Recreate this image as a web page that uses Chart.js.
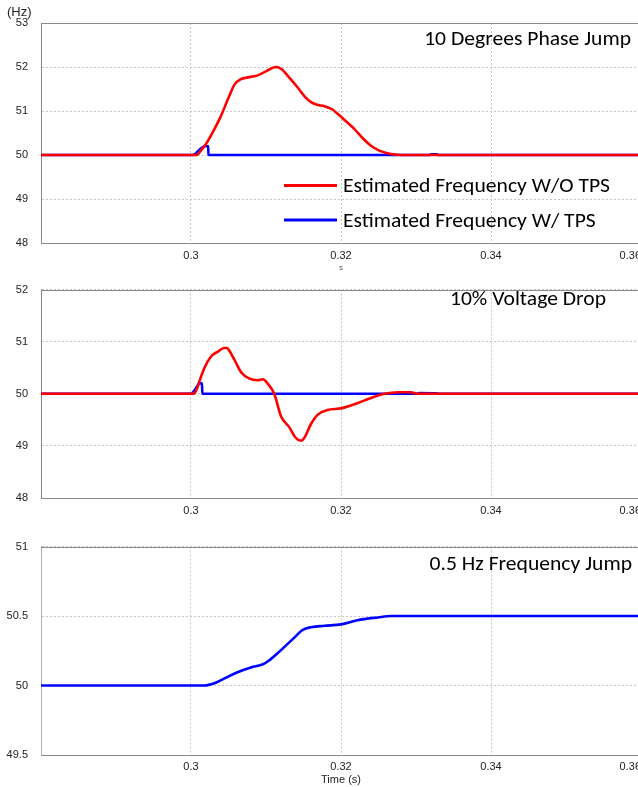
<!DOCTYPE html>
<html>
<head>
<meta charset="utf-8">
<script src="https://cdn.jsdelivr.net/npm/chart.js@4.4.1/dist/chart.umd.min.js"></script>
<style>
  html, body { margin: 0; padding: 0; background: #fff; overflow: hidden; width: 638px; height: 787px; }
  canvas.panel { position: absolute; left: 0; }
</style>
</head>
<body>
<canvas id="phaseJump" class="panel" width="680" height="275" style="top:0px"></canvas>
<canvas id="voltageDrop" class="panel" width="680" height="260" style="top:270px"></canvas>
<canvas id="freqJump" class="panel" width="680" height="260" style="top:527px"></canvas>
<script>
// ---- axis ticks ----
const timeTicks = [0.28, 0.30, 0.32, 0.34, 0.36];
const timeTickLabels = ['', '0.3', '0.32', '0.34', '0.36'];
const phaseTicks = [48, 49, 50, 51, 52, 53];
const voltageTicks = [48, 49, 50, 51, 52];
const freqTicks = [49.5, 50, 50.5, 51];

// ---- series labels ----
const seriesNames = ['Estimated Frequency W/O TPS', 'Estimated Frequency W/ TPS'];
const panelNames = ['10 Degrees Phase Jump', '10% Voltage Drop', '0.5 Hz Frequency Jump'];

// ---- 10 degrees phase jump ----
const phaseTimeNoTps = [0.28, 0.3008, 0.3013, 0.3020, 0.3030, 0.3040, 0.3050, 0.3058, 0.3066, 0.3078, 0.3089, 0.3100, 0.3113, 0.3121, 0.3129, 0.3142, 0.3152, 0.3160, 0.3168, 0.3178, 0.3188, 0.3196, 0.3207, 0.3218, 0.3229, 0.3240, 0.3251, 0.3262, 0.3272, 0.3280, 0.36];
const phaseFreqNoTps = [50, 50, 50.10, 50.25, 50.55, 50.89, 51.30, 51.60, 51.72, 51.77, 51.81, 51.90, 52.00, 51.95, 51.80, 51.54, 51.32, 51.20, 51.14, 51.11, 51.04, 50.93, 50.76, 50.59, 50.38, 50.21, 50.10, 50.04, 50.01, 50, 50];
const phaseTimeTps = [0.28, 0.3002, 0.3006, 0.3010, 0.3014, 0.3018, 0.30230, 0.30232, 0.3318, 0.3320, 0.3328, 0.3330, 0.36];
const phaseFreqTps = [50, 50, 50.03, 50.10, 50.16, 50.20, 50.20, 50, 50, 50.015, 50.015, 50, 50];

// ---- 10% voltage drop ----
const voltTimeNoTps = [0.28, 0.3004, 0.3008, 0.3011, 0.3018, 0.3027, 0.3036, 0.3044, 0.3048, 0.3051, 0.3058, 0.3067, 0.3078, 0.3089, 0.3096, 0.3102, 0.3111, 0.3120, 0.3131, 0.3140, 0.3147, 0.3151, 0.3160, 0.3169, 0.3182, 0.3200, 0.3218, 0.3240, 0.3258, 0.3276, 0.3293, 0.3302, 0.36];
const voltFreqNoTps = [50, 50, 50.10, 50.23, 50.50, 50.72, 50.81, 50.88, 50.88, 50.83, 50.65, 50.41, 50.29, 50.26, 50.28, 50.20, 50.00, 49.57, 49.36, 49.15, 49.10, 49.15, 49.42, 49.60, 49.69, 49.72, 49.80, 49.92, 50.00, 50.03, 50.03, 50.00, 50];
const voltTimeTps = [0.28, 0.3000, 0.3004, 0.3008, 0.3011, 0.30147, 0.30150, 0.3302, 0.3304, 0.3328, 0.3330, 0.36];
const voltFreqTps = [50, 50, 50.05, 50.14, 50.20, 50.20, 50, 50, 50.015, 50.01, 50, 50];

// ---- 0.5 Hz frequency jump ----
const jumpTimeTps = [0.28, 0.3018, 0.3031, 0.3044, 0.3062, 0.3080, 0.3096, 0.3104, 0.3120, 0.3136, 0.3149, 0.3160, 0.3178, 0.3200, 0.3222, 0.3249, 0.3267, 0.36];
const jumpFreqTps = [50, 50, 50.016, 50.05, 50.096, 50.13, 50.153, 50.18, 50.255, 50.336, 50.40, 50.42, 50.43, 50.44, 50.47, 50.49, 50.50, 50.50];

const RED = '#ff0000';
const BLUE = '#0000ff';
const TICK_FONT = { family: '"Liberation Sans", Arial, sans-serif', size: 11 };
const LABEL_FAMILY = 'Carlito, Calibri, "Open Sans", sans-serif';
const LABEL_SIZE = 20;
const LABEL_STRETCH = 1.08;   // captions use a slightly wide set

const toPoints = (xs, ys) => xs.map((x, i) => ({ x: x, y: ys[i] }));
const fmt = v => String(+v.toFixed(4));

function series(label, color, xs, ys) {
  return {
    label: label,
    data: toPoints(xs, ys),
    borderColor: color,
    backgroundColor: color,
    borderWidth: 2.6,
    pointRadius: 0,
    fill: false,
    cubicInterpolationMode: 'monotone'
  };
}

// writes caption text with a horizontal stretch
function wideText(ctx, text, x, y, align) {
  ctx.save();
  ctx.translate(x, y);
  ctx.scale(LABEL_STRETCH, 1);
  ctx.textAlign = align;
  ctx.textBaseline = 'alphabetic';
  ctx.fillText(text, 0, 0);
  ctx.restore();
}

// top edge of the plot frame
const frameTop = {
  id: 'frameTop',
  beforeDatasetsDraw(chart) {
    const { ctx, chartArea: a } = chart;
    ctx.save();
    ctx.strokeStyle = '#8a8a8a';
    ctx.lineWidth = 1;
    ctx.beginPath();
    ctx.moveTo(a.left, Math.round(a.top) + 0.5);
    ctx.lineTo(a.right, Math.round(a.top) + 0.5);
    ctx.stroke();
    ctx.restore();
  }
};

// caption inside the plot, right aligned
const panelCaption = {
  id: 'panelCaption',
  afterDraw(chart, args, opts) {
    if (!opts.text) return;
    const ctx = chart.ctx;
    ctx.save();
    ctx.font = opts.size + 'px ' + LABEL_FAMILY;
    ctx.fillStyle = '#000';
    wideText(ctx, opts.text, opts.right, opts.baseline, 'right');
    ctx.restore();
  }
};

// legend drawn inside the first plot
const innerLegend = {
  id: 'innerLegend',
  afterDraw(chart, args, opts) {
    if (!opts.display) return;
    const ctx = chart.ctx;
    ctx.save();
    ctx.font = opts.size + 'px ' + LABEL_FAMILY;
    chart.data.datasets.forEach((ds, i) => {
      const y = opts.rows[i];
      ctx.strokeStyle = ds.borderColor;
      ctx.lineWidth = 3;
      ctx.beginPath();
      ctx.moveTo(opts.lineStart, y);
      ctx.lineTo(opts.lineEnd, y);
      ctx.stroke();
      ctx.fillStyle = '#000';
      wideText(ctx, ds.label, opts.textStart, y + 6.5, 'left');
    });
    ctx.restore();
  }
};

// unit caption above the first value axis
const unitLabel = {
  id: 'unitLabel',
  afterDraw(chart, args, opts) {
    if (!opts.text) return;
    const ctx = chart.ctx;
    ctx.save();
    ctx.font = '13px "Liberation Sans", Arial, sans-serif';
    ctx.fillStyle = '#222';
    ctx.textAlign = 'left';
    ctx.textBaseline = 'middle';
    ctx.fillText(opts.text, 7, 12.5);
    ctx.restore();
  }
};

function buildOptions(cfg) {
  return {
    responsive: false,
    animation: false,
    events: [],
    layout: { padding: { top: cfg.top, right: 39, left: 0, bottom: 0 } },
    plugins: {
      legend: { display: false },
      tooltip: { enabled: false },
      panelCaption: cfg.caption,
      innerLegend: cfg.legend || { display: false },
      unitLabel: cfg.unit || {}
    },
    scales: {
      x: {
        type: 'linear',
        min: timeTicks[0],
        max: timeTicks[timeTicks.length - 1],
        afterBuildTicks: s => { s.ticks = timeTicks.map(v => ({ value: v })); },
        afterFit: s => { s.height = cfg.axisHeight; },
        ticks: {
          font: TICK_FONT, color: '#222', padding: cfg.xPad, maxRotation: 0, align: 'inner',
          callback: (v, i) => timeTickLabels[i]
        },
        grid: { color: '#c4c4c4', drawTicks: false, lineWidth: 1 },
        border: { display: true, color: '#8a8a8a', width: 1, dash: [2, 2] },
        title: cfg.xTitle
      },
      y: {
        type: 'linear',
        min: cfg.yTicks[0],
        max: cfg.yTicks[cfg.yTicks.length - 1],
        afterBuildTicks: s => { s.ticks = cfg.yTicks.map(v => ({ value: v })); },
        afterFit: s => { s.width = 41; },
        ticks: { font: TICK_FONT, color: '#222', padding: 13, callback: v => fmt(v) },
        grid: { color: '#c4c4c4', drawTicks: false, lineWidth: 1 },
        border: { display: true, color: cfg.leftColor || '#8a8a8a', width: 1, dash: [2, 2] }
      }
    }
  };
}

new Chart(document.getElementById('phaseJump'), {
  type: 'line',
  data: { datasets: [
    series(seriesNames[0], RED, phaseTimeNoTps, phaseFreqNoTps),
    series(seriesNames[1], BLUE, phaseTimeTps, phaseFreqTps)
  ] },
  options: buildOptions({
    top: 23, axisHeight: 32, xPad: 6, yTicks: phaseTicks,
    caption: { text: panelNames[0], right: 631, baseline: 45, size: LABEL_SIZE },
    legend: { display: true, rows: [185.5, 220], lineStart: 284, lineEnd: 337, textStart: 343, size: LABEL_SIZE },
    unit: { text: '(Hz)' },
    xTitle: { display: true, text: 's', color: '#555', font: { family: '"Liberation Sans", Arial, sans-serif', size: 8 }, padding: { top: 0, bottom: 2 } }
  }),
  plugins: [frameTop, panelCaption, innerLegend, unitLabel]
});

new Chart(document.getElementById('voltageDrop'), {
  type: 'line',
  data: { datasets: [
    series(seriesNames[0], RED, voltTimeNoTps, voltFreqNoTps),
    series(seriesNames[1], BLUE, voltTimeTps, voltFreqTps)
  ] },
  options: buildOptions({
    top: 8, axisHeight: 32, xPad: 6, yTicks: voltageTicks,
    caption: { text: panelNames[1], right: 606, baseline: 35, size: LABEL_SIZE },
    xTitle: { display: false }
  }),
  plugins: [frameTop, panelCaption]
});

new Chart(document.getElementById('freqJump'), {
  type: 'line',
  data: { datasets: [
    series(seriesNames[1], BLUE, jumpTimeTps, jumpFreqTps)
  ] },
  options: buildOptions({
    top: 9, axisHeight: 32, xPad: 5, yTicks: freqTicks, leftColor: '#b0b0b0',
    caption: { text: panelNames[2], right: 632, baseline: 43, size: LABEL_SIZE },
    xTitle: { display: true, text: 'Time (s)', color: '#222', font: TICK_FONT, padding: { top: 0, bottom: 0 } }
  }),
  plugins: [frameTop, panelCaption]
});
</script>
</body>
</html>
